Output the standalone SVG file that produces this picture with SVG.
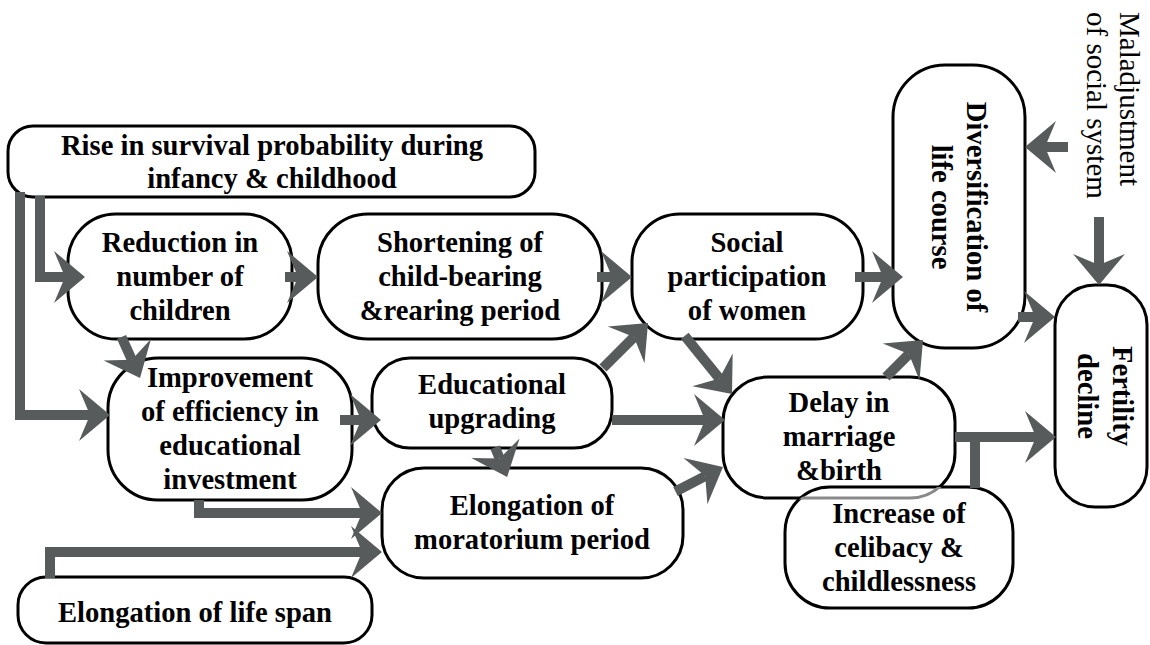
<svg xmlns="http://www.w3.org/2000/svg" width="1150" height="645" viewBox="0 0 1150 645">
<defs>
<style>
.box{fill:#fff;stroke:#000;stroke-width:3}
.t{font-family:"Liberation Serif","Times New Roman",serif;font-size:28.6px;font-weight:bold;text-anchor:middle;fill:#000}
.r{font-family:"Liberation Serif","Times New Roman",serif;font-size:29px;fill:#000}
.c{fill:none;stroke:#585b5c;stroke-width:10;stroke-linejoin:miter;marker-end:url(#ah)}
.s{fill:none;stroke:#585b5c;stroke-width:10}
</style>
<marker id="ah" markerUnits="userSpaceOnUse" orient="auto" markerWidth="40" markerHeight="60" refX="0" refY="0" overflow="visible"><path d="M20,0 L-11,-26 L0,0 L-11,26 Z" fill="#585b5c"/></marker>
<clipPath id="incClip"><rect x="785" y="487" width="228" height="121" rx="45"/></clipPath>
</defs>
<rect width="1150" height="645" fill="#fff"/>
<g id="rise"><rect class="box" x="8" y="126" width="527" height="71" rx="25"/><text class="t" x="272"><tspan x="272" y="155">Rise in survival probability during</tspan><tspan x="272" y="188">infancy &amp; childhood</tspan></text></g>
<g id="reduction"><rect class="box" x="68" y="214" width="224" height="125" rx="48"/><text class="t"><tspan x="180" y="252">Reduction in</tspan><tspan x="180" y="286">number of</tspan><tspan x="180" y="320">children</tspan></text></g>
<g id="shortening"><rect class="box" x="318" y="214" width="284" height="125" rx="50"/><text class="t"><tspan x="460" y="252">Shortening of</tspan><tspan x="460" y="286">child-bearing</tspan><tspan x="460" y="320">&amp;rearing period</tspan></text></g>
<g id="social"><rect class="box" x="632" y="214" width="231" height="125" rx="48"/><text class="t"><tspan x="747" y="252">Social</tspan><tspan x="747" y="286">participation</tspan><tspan x="747" y="320">of women</tspan></text></g>
<g id="improvement"><rect class="box" x="108" y="358" width="244" height="142" rx="50"/><text class="t"><tspan x="230" y="387">Improvement</tspan><tspan x="230" y="421">of efficiency in</tspan><tspan x="230" y="455">educational</tspan><tspan x="230" y="489">investment</tspan></text></g>
<g id="educational"><rect class="box" x="372" y="358" width="240" height="90" rx="38"/><text class="t"><tspan x="492" y="394">Educational</tspan><tspan x="492" y="428">upgrading</tspan></text></g>
<g id="moratorium"><rect class="box" x="382" y="468" width="301" height="110" rx="42"/><text class="t"><tspan x="532" y="515">Elongation of</tspan><tspan x="532" y="549">moratorium period</tspan></text></g>
<g id="delay"><rect class="box" x="723" y="377" width="232" height="121" rx="45"/><text class="t"><tspan x="839" y="412">Delay in</tspan><tspan x="839" y="446">marriage</tspan><tspan x="839" y="480">&amp;birth</tspan></text></g>
<g id="increase"><rect class="box" x="785" y="487" width="228" height="121" rx="45"/><rect x="723" y="377" width="232" height="121" rx="45" fill="none" stroke="#8a8a8a" stroke-width="3" clip-path="url(#incClip)"/><text class="t"><tspan x="899" y="523">Increase of</tspan><tspan x="899" y="557">celibacy &amp;</tspan><tspan x="899" y="591">childlessness</tspan></text></g>
<g id="lifespan"><rect class="box" x="18" y="577" width="354" height="66" rx="28"/><text class="t" x="195" y="622">Elongation of life span</text></g>
<g id="diversification"><rect class="box" x="893" y="65" width="132" height="283" rx="52"/><text class="t" transform="translate(967,207) rotate(90)"><tspan x="0" y="0">Diversification of</tspan><tspan x="0" y="35">life course</tspan></text></g>
<g id="fertility"><rect class="box" x="1055" y="285" width="92" height="222" rx="40"/><text class="t" transform="translate(1113,396) rotate(90)"><tspan x="0" y="0">Fertility</tspan><tspan x="0" y="35">decline</tspan></text></g>
<g id="maladjustment"><text class="r" transform="translate(1120,12) rotate(90)"><tspan x="0" y="0">Maladjustment</tspan><tspan x="0" y="33">of social system</tspan></text></g>
<g id="connectors">
<path class="c" d="M20,192 V415 H90"/>
<path class="c" d="M40,196 V277 H65"/>
<path class="c" d="M285,277 H298"/>
<path class="c" d="M597,277 H612"/>
<path class="c" d="M855,277 H883"/>
<path class="c" d="M121.5,337 L131.8,359.8"/>
<path class="c" d="M340,420 H361"/>
<path class="c" d="M603,368 L633.9,337.1"/>
<path class="c" d="M612,420 H705"/>
<path class="c" d="M684.75,335.8 L719.4,378.5"/>
<path class="c" d="M495.1,447.3 L499.6,458.4"/>
<path class="c" d="M199,500 V513 H362"/>
<path class="c" d="M50,578 V552 H362"/>
<path class="c" d="M675.5,491.5 L705.2,476.1"/>
<path class="c" d="M886,377 L908.9,354.1"/>
<path class="c" d="M1018,317 H1035"/>
<path class="c" d="M955,437 H1036"/>
<path class="s" d="M975,437 V488"/>
<path class="c" d="M1068,147 H1045"/>
<path class="c" d="M1099,217 V265"/>
</g>
</svg>
